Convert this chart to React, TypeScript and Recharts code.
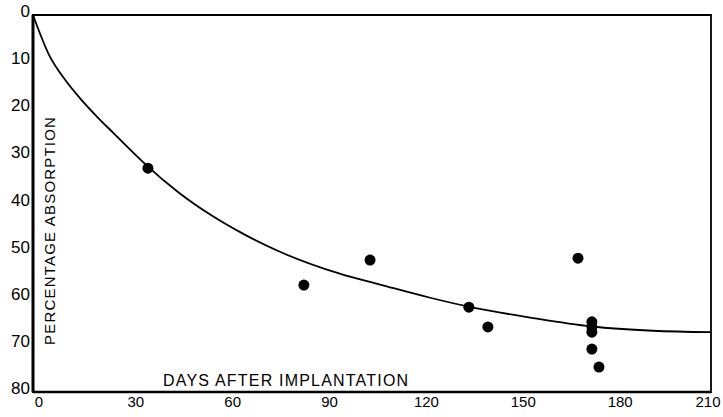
import { ComposedChart, Line, Scatter, XAxis, YAxis, ReferenceArea } from 'recharts'

// fitted absorption curve
const curveDays = [0, 5, 10, 15, 20, 25, 30, 35, 45, 55, 65, 77, 95, 108, 123, 135, 154, 173, 192, 210]
const curvePct = [0, 8.5, 13.8, 18, 21.7, 25.1, 28.5, 31.8, 37.6, 42.4, 46.4, 50.4, 54.9, 57.3, 60, 61.9, 64.2, 66.1, 67, 67.3]

// observed implants
const obsDays = [35.6, 83.9, 104.4, 135, 140.9, 168.8, 173.1, 173.1, 173.1, 173.1, 175.3]
const obsPct = [32.5, 57.3, 52, 62, 66.2, 51.6, 65.1, 66.2, 67.3, 70.9, 74.7]

const xTicks = [0, 30, 60, 90, 120, 150, 180, 210]
const yTicks = [0, 10, 20, 30, 40, 50, 60, 70, 80]

const curve = curveDays.map((t, i) => ({ t, v: curvePct[i] }))
const obs = obsDays.map((t, i) => ({ t, v: obsPct[i] }))

const font = '"Liberation Sans", Arial, sans-serif'

const Dot = (p: any) => <circle cx={p.cx} cy={p.cy} r={5.5} fill="#000" />

const XTick = ({ x, y, payload }: any) => (
  <text x={x + (payload.value === 210 ? -3 : 6)} y={y + 13} textAnchor="middle"
    fontFamily={font} fontSize={15} fill="#000">{payload.value}</text>
)

const YTick = ({ x, y, payload }: any) => (
  <text x={x} y={y + 2} textAnchor="end" fontFamily={font} fontSize={17} fill="#000">{payload.value}</text>
)

export default function App() {
  return (
    <div style={{ position: 'absolute', left: 0, top: 0, width: 723, height: 417, background: '#fff' }}>
      <ComposedChart width={723} height={417} data={curve} margin={{ top: 15, right: 12, left: 0, bottom: 0 }}>
        <XAxis type="number" dataKey="t" domain={[0, 210]} ticks={xTicks} height={25}
          axisLine={{ stroke: '#000', strokeWidth: 2.5 }} tickLine={false} tickSize={0} tick={<XTick />} />
        <YAxis type="number" domain={[0, 80]} ticks={yTicks} reversed width={33}
          axisLine={{ stroke: '#000', strokeWidth: 3 }} tickLine={false} tickSize={0} tickMargin={3} tick={<YTick />} />
        <ReferenceArea x1={0} x2={210} y1={0} y2={80} fill="none" stroke="#000" strokeWidth={1.8} />
        <Line data={curve} dataKey="v" type="monotone" stroke="#000" strokeWidth={1.8} dot={false} isAnimationActive={false} />
        <Scatter data={obs} dataKey="v" shape={<Dot />} isAnimationActive={false} />
      </ComposedChart>
      <div style={{ position: 'absolute', left: 163, top: 372, width: 274, fontFamily: font, fontSize: 16, letterSpacing: 1.2, whiteSpace: 'nowrap', color: '#000' }}>
        DAYS AFTER IMPLANTATION
      </div>
      <div style={{ position: 'absolute', left: 42, top: 345, transformOrigin: '0 0', transform: 'rotate(-90deg)', fontFamily: font, fontSize: 15, letterSpacing: 1.2, whiteSpace: 'nowrap', color: '#000', lineHeight: '16px' }}>
        PERCENTAGE ABSORPTION
      </div>
    </div>
  )
}
